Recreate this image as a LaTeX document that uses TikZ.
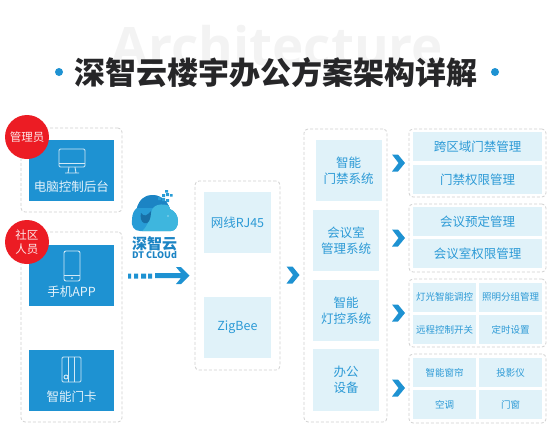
\documentclass[tikz,border=0pt]{standalone}
\usepackage{fontspec}
\setmainfont{Noto Sans CJK SC}
\newfontfamily\latinbold{Open Sans}
\usetikzlibrary{positioning,calc}
\definecolor{accent}{RGB}{30,146,210}
\definecolor{lblue}{RGB}{224,242,249}
\definecolor{ltext}{RGB}{44,154,214}
\definecolor{ink}{RGB}{38,38,40}
\definecolor{redbadge}{RGB}{236,28,36}
\definecolor{dashgray}{RGB}{208,208,208}
\definecolor{ghostgray}{RGB}{243,243,243}
\definecolor{whaledark}{RGB}{28,132,196}
\definecolor{whalemid}{RGB}{40,156,214}
\definecolor{whalelight}{RGB}{62,182,222}
\newcommand{\fs}[1]{\fontsize{#1}{#1}\selectfont}
\tikzset{
  dashbox/.style={draw=dashgray, dash pattern=on 3pt off 2pt, line width=0.8pt, rounded corners=4pt, inner sep=0pt},
  bluebox/.style={fill=accent, inner sep=0pt, minimum width=85pt, minimum height=61pt},
  bluetxt/.style={text=white!88!accent, font=\fs{12.5}, inner sep=0pt},
  lightbox/.style={fill=lblue, text=ltext, align=center, inner sep=0pt, font=\fontsize{12.5}{16}\selectfont},
  sysbox/.style={lightbox, minimum width=66pt, minimum height=61.5pt},
  wide/.style={lightbox, minimum width=129pt, minimum height=29pt},
  half/.style={lightbox, minimum width=63pt, minimum height=29pt, font=\fs{9.5}},
  badge/.style={circle, fill=redbadge, text=white!90!redbadge, minimum size=44pt, inner sep=0pt, align=center,
                font=\fontsize{11.5}{13.5}\selectfont},
  icon/.style={draw=white!80!accent, line width=0.9pt, rounded corners=1.2pt},
  chev/.pic={\fill[accent] (-6.5,-8.5) -- (-0.5,-8.5) -- (6.5,0) -- (-0.5,8.5) -- (-6.5,8.5) -- (0,0) -- cycle;},
}
\begin{document}
\begin{tikzpicture}[x=1pt,y=-1pt]
  \useasboundingbox (0,0) rectangle (552,432);

  \node[anchor=base, text=ghostgray, font=\latinbold\bfseries\fs{53}, inner sep=0pt] (ghost) at (277.5,65) {Architecture};
  \node[text=ink, font=\bfseries\fs{31}, inner sep=0pt] (title) at (276,72.5) {深智云楼宇办公方案架构详解};
  \fill[accent] (59,72) circle (4);
  \fill[accent] (495,72) circle (4);

  \node[dashbox, minimum width=101pt, minimum height=84pt] (admingroup) at (71.5,170) {};
  \node[dashbox, minimum width=101pt, minimum height=190pt] (usergroup) at (71.5,327) {};
  \node[bluebox] (pc) at (71.5,170.5) {};
  \node[bluetxt] (pctxt) at (71.5,187) {电脑控制后台};
  \node[bluebox] (phone) at (71.5,275.5) {};
  \node[bluetxt] (phonetxt) at (71.5,292) {手机APP};
  \node[bluebox] (card) at (71.5,380) {};
  \node[bluetxt] (cardtxt) at (71.5,397) {智能门卡};
  \node[badge] (admin) at (27,137) {管理员};
  \node[badge] (resident) at (27,242) {社区\\人员};

  \draw[icon] (59,149) rectangle (85,167);
  \draw[icon] (59,163) -- (85,163);
  \draw[icon, rounded corners=0pt] (69,167) -- (68,173) (75,167) -- (76,173) (65,173) -- (79,173);
  \draw[icon, rounded corners=2pt] (64,251) rectangle (80,281);
  \draw[icon] (64,275) -- (80,275);
  \fill[white!80!accent] (72,278) circle (1);
  \draw[icon] (62,357) rectangle (81,382);
  \draw[icon] (68.5,357) -- (68.5,382) (74.5,357) -- (74.5,382);
  \draw[icon] (66,377) circle (2);

  \begin{scope}
    \path[clip] (140,231) .. controls (134,231) and (131,226) .. (132,220)
      .. controls (132,214) and (134,210) .. (137,208) .. controls (139,200) and (145,195) .. (152,195)
      .. controls (160,195) and (167,200) .. (170,209) .. controls (175,211) and (178,216) .. (178,221)
      .. controls (178,227) and (175,231) .. (171,231) -- cycle;
    \fill[whalemid] (128,190) rectangle (180,235);
    \fill[whaledark] (128,190) rectangle (180,208);
    \fill[whalelight] (180,211) .. controls (170,204) and (158,202) .. (153,208)
      .. controls (150,212) and (152,224) .. (138,235) -- (180,235) -- cycle;
  \end{scope}
  \fill[whaledark!85!black] (141,213) .. controls (144,217) and (147,216) .. (151,211)
    .. controls (151,220) and (148,225) .. (144,223) .. controls (141,222) and (140,217) .. (141,213) -- cycle;
  \fill[white] (168,216) circle (0.7);
  \fill[whalemid] (158,197) rectangle ++(3,3) (162,198) rectangle ++(3,3) (166,199) rectangle ++(3,3)
    (162,194) rectangle ++(3,3) (166,193) rectangle ++(3,3) (170,194) rectangle ++(2.5,2.5) (165,190) rectangle ++(3,2.5);
  \node[text=whaledark, font=\bfseries\fs{15}, inner sep=0pt] (logotxt) at (154.5,244) {深智云};
  \node[text=whaledark, font=\bfseries\fs{9}, inner sep=0pt] (logosub) at (154.5,255) {DT CLOUd};

  \fill[accent] (128,273.5) rectangle ++(3,5) (134,273.5) rectangle ++(4,5) (141,273.5) rectangle ++(5,5) (148,273.5) rectangle ++(4,5);
  \fill[accent] (155,273) -- (181,273) -- (176,267) -- (181,267) -- (189.5,275.5) -- (181,284) -- (176,284) -- (181,278) -- (155,278) -- cycle;

  \node[dashbox, minimum width=85pt, minimum height=189pt] (linkgroup) at (237.5,275.5) {};
  \node[sysbox, minimum width=67pt] (rj) at (237.5,222.5) {网线RJ45};
  \node[sysbox, minimum width=67pt] (zigbee) at (237.5,327.5) {ZigBee};
  \pic at (293,275) {chev};

  \node[dashbox, minimum width=83pt, minimum height=293pt] (sysgroup) at (345.5,275.5) {};
  \node[sysbox] (door) at (348.5,170.5) {智能\\门禁系统};
  \node[sysbox] (meet) at (346,240.5) {会议室\\管理系统};
  \node[sysbox] (light) at (346,310.5) {智能\\灯控系统};
  \node[sysbox] (office) at (346,380) {办公\\设备};

  \pic at (398.5,163) {chev};
  \pic at (398.5,238) {chev};
  \pic at (398.5,313) {chev};
  \pic at (398.5,388) {chev};

  \node[dashbox, minimum width=137pt, minimum height=68pt] (doorgroup) at (477.5,163) {};
  \node[wide] (cross) at (477.5,146.5) {跨区域门禁管理};
  \node[wide] (perm) at (477.5,179.5) {门禁权限管理};

  \node[dashbox, minimum width=137pt, minimum height=68pt] (meetgroup) at (477.5,238) {};
  \node[wide] (book) at (477.5,221.5) {会议预定管理};
  \node[wide] (meetperm) at (477.5,253.5) {会议室权限管理};

  \node[dashbox, minimum width=137pt, minimum height=68pt] (lightgroup) at (477.5,313) {};
  \node[half] (dim) at (444.5,297) {灯光智能调控};
  \node[half] (zone) at (510.5,297) {照明分组管理};
  \node[half] (remote) at (444.5,329.5) {远程控制开关};
  \node[half] (timer) at (510.5,329.5) {定时设置};

  \node[dashbox, minimum width=137pt, minimum height=69pt] (devgroup) at (477.5,388.5) {};
  \node[half] (curtain) at (444.5,372.5) {智能窗帘};
  \node[half] (projector) at (510.5,372.5) {投影仪};
  \node[half] (aircon) at (444.5,404.5) {空调};
  \node[half] (window) at (510.5,404.5) {门窗};
\end{tikzpicture}
\end{document}
